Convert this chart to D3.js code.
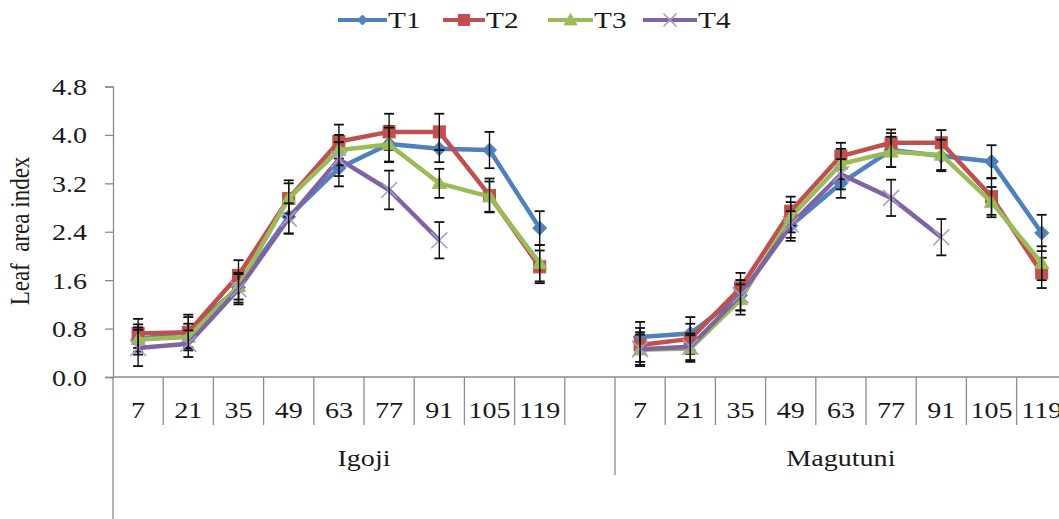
<!DOCTYPE html>
<html>
<head>
<meta charset="utf-8">
<script src="https://cdn.jsdelivr.net/npm/d3@7"></script>
<style>
  html, body { margin: 0; padding: 0; background: #fff; }
  svg { display: block; }
  text { font-family: "Liberation Serif", serif; fill: #1a1a1a; }
</style>
</head>
<body>
<svg id="chart" width="1059" height="519"></svg>
<script>
// Sampling days and sites (two-level category axis)
const days = ["7", "21", "35", "49", "63", "77", "91", "105", "119"];
const sites = ["Igoji", "Magutuni"];
const seriesNames = ["T1", "T2", "T3", "T4"];
const seriesColors = ["#4F81BD", "#C0504D", "#9BBB59", "#8064A2"];
const yTicks = [0, 0.8, 1.6, 2.4, 3.2, 4.0, 4.8];

// Leaf area index means
const igojiT1 = [0.62, 0.75, 1.48, 2.65, 3.45, 3.85, 3.77, 3.75, 2.46];
const igojiT2 = [0.72, 0.74, 1.68, 2.95, 3.89, 4.05, 4.05, 3.00, 1.82];
const igojiT3 = [0.62, 0.66, 1.50, 2.95, 3.75, 3.84, 3.20, 2.98, 1.88];
const igojiT4 = [0.48, 0.55, 1.45, 2.62, 3.60, 3.09, 2.26];
const magutuniT1 = [0.66, 0.72, 1.35, 2.50, 3.20, 3.75, 3.65, 3.56, 2.38];
const magutuniT2 = [0.53, 0.63, 1.47, 2.74, 3.65, 3.87, 3.87, 2.98, 1.72];
const magutuniT3 = [0.45, 0.47, 1.28, 2.64, 3.52, 3.72, 3.67, 2.89, 1.88];
const magutuniT4 = [0.46, 0.50, 1.35, 2.52, 3.35, 2.96, 2.31];

// Standard errors
const igojiErrT1 = [0.25, 0.28, 0.25, 0.28, 0.30, 0.30, 0.22, 0.30, 0.28];
const igojiErrT2 = [0.24, 0.25, 0.25, 0.30, 0.28, 0.30, 0.30, 0.28, 0.27];
const igojiErrT3 = [0.20, 0.22, 0.22, 0.25, 0.25, 0.28, 0.24, 0.25, 0.30];
const igojiErrT4 = [0.30, 0.22, 0.25, 0.25, 0.28, 0.32, 0.30];
const magutuniErrT1 = [0.25, 0.27, 0.25, 0.25, 0.24, 0.28, 0.25, 0.27, 0.30];
const magutuniErrT2 = [0.28, 0.25, 0.25, 0.24, 0.22, 0.22, 0.21, 0.30, 0.25];
const magutuniErrT3 = [0.25, 0.22, 0.25, 0.25, 0.25, 0.25, 0.25, 0.25, 0.28];
const magutuniErrT4 = [0.28, 0.22, 0.25, 0.22, 0.25, 0.30, 0.30];

const siteValues = {
  Igoji: [igojiT1, igojiT2, igojiT3, igojiT4],
  Magutuni: [magutuniT1, magutuniT2, magutuniT3, magutuniT4]
};
const siteErrors = {
  Igoji: [igojiErrT1, igojiErrT2, igojiErrT3, igojiErrT4],
  Magutuni: [magutuniErrT1, magutuniErrT2, magutuniErrT3, magutuniErrT4]
};

const svg = d3.select("#chart");
const FONT = 23, SX = 1.22;      // serif labels, drawn slightly wide
const LEGEND_FONT = 24;

// Category keys: Igoji days, one empty slot, then Magutuni days
const keys = [];
days.forEach(d => keys.push("Igoji|" + d));
keys.push("Igoji|");
days.forEach(d => keys.push("Magutuni|" + d));

const plotTop = 86.5, plotBottom = 377, plotLeft = 113;
const x = d3.scaleBand().domain(keys).range([plotLeft, plotLeft + 19 * 50.2]).padding(0);
const y = d3.scaleLinear().domain([0, 4.8]).range([plotBottom, plotTop]);
const cx = k => x(k) + x.bandwidth() / 2;

// ---- Y axis ----
const yAxis = d3.axisLeft(y).tickValues(yTicks).tickFormat(d3.format(".1f")).tickSize(8).tickPadding(4);
const gy = svg.append("g").attr("transform", `translate(${plotLeft},0)`).call(yAxis);
gy.attr("font-family", null).attr("font-size", null);
gy.select(".domain").attr("stroke", "#8c8c8c").attr("stroke-width", 1.3);
gy.selectAll(".tick line").attr("stroke", "#8c8c8c").attr("stroke-width", 1.3);
gy.selectAll(".tick text")
  .attr("x", null).attr("dy", null)
  .attr("transform", `translate(-26,8) scale(${SX},1)`)
  .style("font-size", FONT + "px");

// Y title
svg.append("text")
  .attr("transform", `translate(29,231) scale(${SX},1) rotate(-90)`)
  .attr("text-anchor", "middle")
  .style("font-size", FONT + "px")
  .style("white-space", "pre")
  .text("Leaf  area index");

// ---- X axis (two levels) ----
const axisColor = "#8c8c8c";
svg.append("line")
  .attr("x1", plotLeft).attr("x2", x.range()[1])
  .attr("y1", plotBottom).attr("y2", plotBottom)
  .attr("stroke", axisColor).attr("stroke-width", 1.3);
// left edge extends to the bottom of the label area
svg.append("line")
  .attr("x1", plotLeft).attr("x2", plotLeft)
  .attr("y1", plotBottom).attr("y2", 519)
  .attr("stroke", axisColor).attr("stroke-width", 1.3);

// category separators
keys.forEach((k, i) => {
  if (i === 0) return;
  const isGroup = k.startsWith("Magutuni") && keys[i - 1].startsWith("Igoji");
  svg.append("line")
    .attr("x1", x(k)).attr("x2", x(k))
    .attr("y1", plotBottom).attr("y2", isGroup ? 475 : 425)
    .attr("stroke", axisColor).attr("stroke-width", 1.3);
});

// day labels
keys.forEach(k => {
  const lab = k.split("|")[1];
  if (!lab) return;
  svg.append("text")
    .attr("transform", `translate(${cx(k)},418) scale(${SX},1)`)
    .attr("text-anchor", "middle")
    .style("font-size", FONT + "px")
    .text(lab);
});

// site labels centred over each group
sites.forEach(s => {
  const groupKeys = keys.filter(k => k.startsWith(s + "|"));
  const x0 = x(groupKeys[0]);
  const x1 = x(groupKeys[groupKeys.length - 1]) + x.bandwidth();
  svg.append("text")
    .attr("transform", `translate(${(x0 + x1) / 2},466) scale(${SX},1)`)
    .attr("text-anchor", "middle")
    .style("font-size", FONT + "px")
    .text(s);
});

// ---- Markers ----
function drawMarker(g, i, px, py, size) {
  const c = seriesColors[i];
  const h = size / 2;
  if (i === 0) {
    g.append("path")
      .attr("d", `M${px},${py - h}L${px + h},${py}L${px},${py + h}L${px - h},${py}Z`)
      .attr("fill", c).attr("stroke", c).attr("stroke-width", 1);
  } else if (i === 1) {
    const s = size * 0.86;
    g.append("rect")
      .attr("x", px - s / 2).attr("y", py - s / 2).attr("width", s).attr("height", s)
      .attr("fill", c).attr("stroke", c).attr("stroke-width", 1);
  } else if (i === 2) {
    g.append("path")
      .attr("d", `M${px},${py - h}L${px + h},${py + h * 0.75}L${px - h},${py + h * 0.75}Z`)
      .attr("fill", c).attr("stroke", c).attr("stroke-width", 1);
  } else {
    g.append("path")
      .attr("d", `M${px - h},${py - h}L${px + h},${py + h}M${px - h},${py + h}L${px + h},${py - h}`)
      .attr("fill", "none").attr("stroke", "#a59bcc").attr("stroke-width", 1.6);
  }
}

// ---- Series ----
const line = d3.line().x(d => d.x).y(d => d.y);
const plot = svg.append("g");

seriesNames.forEach((name, i) => {
  const g = plot.append("g").attr("class", "series-" + name);
  sites.forEach(s => {
    const vals = siteValues[s][i];
    const errs = siteErrors[s][i];
    const pts = vals.map((v, j) => ({ x: cx(s + "|" + days[j]), y: y(v), v, e: errs[j] }));
    g.append("path")
      .attr("d", line(pts))
      .attr("fill", "none")
      .attr("stroke", seriesColors[i])
      .attr("stroke-width", 4.5)
      .attr("stroke-linejoin", "round");
    pts.forEach(p => drawMarker(g, i, p.x, p.y, i === 3 ? 16 : 14));
    // error bars
    pts.forEach(p => {
      const yt = y(p.v + p.e), yb = y(p.v - p.e);
      g.append("line").attr("x1", p.x).attr("x2", p.x).attr("y1", yt).attr("y2", yb)
        .attr("stroke", "#111").attr("stroke-width", 1.4);
      [yt, yb].forEach(yy => g.append("line")
        .attr("x1", p.x - 5).attr("x2", p.x + 5).attr("y1", yy).attr("y2", yy)
        .attr("stroke", "#111").attr("stroke-width", 1.8));
    });
  });
});

// ---- Legend ----
const legendX = [338, 443, 548, 643];
const legendLineW = [49, 42, 45, 54];
const legend = svg.append("g");
seriesNames.forEach((name, i) => {
  const x0 = legendX[i], w = legendLineW[i], ly = 20;
  legend.append("line")
    .attr("x1", x0).attr("x2", x0 + w).attr("y1", ly).attr("y2", ly)
    .attr("stroke", seriesColors[i]).attr("stroke-width", 4);
  drawMarker(legend, i, x0 + w / 2, ly, i === 0 ? 10 : 13);
  legend.append("text")
    .attr("transform", `translate(${x0 + w + 1},${ly + 8}) scale(${SX},1)`)
    .style("font-size", LEGEND_FONT + "px")
    .text(name);
});
</script>
</body>
</html>
